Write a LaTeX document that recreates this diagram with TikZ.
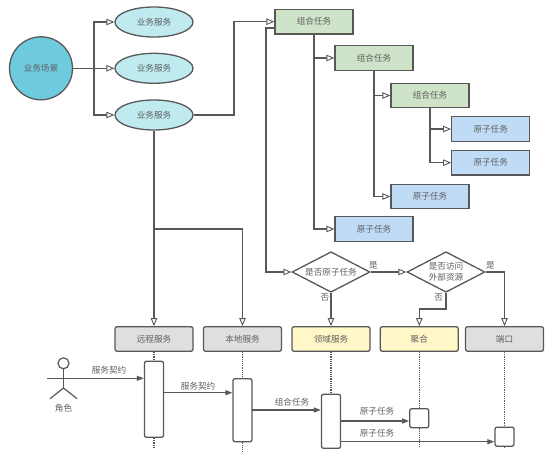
\documentclass[tikz,border=0pt]{standalone}
\usepackage{fontspec}
\setmainfont{Noto Sans CJK SC}
\usetikzlibrary{shapes.geometric, arrows.meta, positioning, calc}
\definecolor{linegray}{RGB}{88, 88, 88}
\definecolor{textgray}{RGB}{95, 95, 95}
\definecolor{scenecyan}{RGB}{110, 203, 222}
\definecolor{servicecyan}{RGB}{190, 234, 240}
\definecolor{combogreen}{RGB}{207, 227, 200}
\definecolor{atomblue}{RGB}{191, 219, 246}
\definecolor{headyellow}{RGB}{255, 247, 200}
\definecolor{headgray}{RGB}{223, 223, 223}
\tikzset{
  base/.style={draw=linegray, line width=1.3pt, text=textgray, inner sep=0pt,
              align=center, font=\fontsize{8.6}{11}\selectfont},
  scenenode/.style={base, circle, fill=scenecyan, minimum size=63pt},
  servicenode/.style={base, ellipse, fill=servicecyan, minimum width=78pt, minimum height=30pt},
  combobox/.style={base, rectangle, fill=combogreen, minimum width=78pt, minimum height=24.5pt},
  atombox/.style={base, rectangle, fill=atomblue, minimum width=78pt, minimum height=24.5pt},
  headbox/.style={base, rectangle, rounded corners=2pt, minimum width=78pt, minimum height=24.5pt, fill=#1},
  headbox/.default=headgray,
  decision/.style={base, diamond, aspect=1.92, fill=white, minimum width=78pt, minimum height=40.5pt},
  actbox/.style={base, rectangle, rounded corners=2pt, fill=white, minimum width=19pt, minimum height=#1},
  actbox/.default=19pt,
  tag/.style={text=textgray, inner sep=0pt, font=\fontsize{8.6}{11}\selectfont},
  arrow/.style={-{Triangle[open, fill=white, length=8pt, width=6.5pt, line width=0.9pt]}, line width=1.2pt, color=linegray},
  plainline/.style={line width=1.2pt, color=linegray},
  callarrow/.style={-{Triangle[length=7pt, width=5pt]}, line width=1.2pt, color=linegray},
  lifeline/.style={densely dotted, line width=1.2pt, color=linegray},
}
\begin{document}
\begin{tikzpicture}[x=1pt, y=-1pt]
  \useasboundingbox (0,0) rectangle (550,453);
  % Scene and services
  \node[scenenode] (scene) at (41,68.3) {业务场景};
  \node[servicenode] (svcA) at (154,22) {业务服务};
  \node[servicenode] (svcB) at (154,68.3) {业务服务};
  \node[servicenode] (svcC) at (154,115) {业务服务};
  % Task tree
  \node[combobox] (comboA) at (314,21.7) {组合任务};
  \node[combobox] (comboB) at (374,58) {组合任务};
  \node[combobox] (comboC) at (430,95.5) {组合任务};
  \node[atombox] (atomA) at (490.7,129) {原子任务};
  \node[atombox] (atomB) at (490.7,162.7) {原子任务};
  \node[atombox] (atomC) at (430,196.5) {原子任务};
  \node[atombox] (atomD) at (374,229) {原子任务};
  % Decisions
  \node[decision] (isAtom) at (331,272) {是否原子任务};
  \node[decision] (isExt) at (446,272) {是否访问\\外部资源};
  % Lane heads
  \node[headbox] (remote) at (154,339) {远程服务};
  \node[headbox] (local) at (242.5,339) {本地服务};
  \node[headbox=headyellow] (domain) at (331,339) {领域服务};
  \node[headbox=headyellow] (aggr) at (419.3,339) {聚合};
  \node[headbox] (port) at (504.5,339) {端口};
  % Activations
  \node[actbox=76pt] (actA) at (154,399.3) {};
  \node[actbox=63pt] (actB) at (242.5,410.2) {};
  \node[actbox=54pt] (actC) at (331,421.3) {};
  \node[actbox] (actD) at (419.3,418.2) {};
  \node[actbox] (actE) at (504.5,436.7) {};
  % Actor
  \node[draw=linegray, line width=1.2pt, circle, fill=white, minimum size=11pt, inner sep=0pt] (head) at (63.5,363.3) {};
  \coordinate (hip) at (63.5,388);
  \coordinate (armL) at (47,378.3);
  \coordinate (armR) at (80,378.3);
  \coordinate (legL) at (50,398.7);
  \coordinate (legR) at (77,398.7);
  \draw[plainline] (head.south) -- (hip);
  \draw[plainline] (armL) -- (armR);
  \draw[plainline] (legL) -- (hip) -- (legR);
  \node[tag] (actor) at (63.5,408) {角色};
  % Service links
  \coordinate (busA) at (94,68.3);
  \coordinate (busB) at (234,115);
  \coordinate (busC) at (266,28);
  \coordinate (comboExit) at (275,28);
  \coordinate (split) at (154,229);
  \coordinate (bendA) at (446,309);
  \coordinate (bendB) at (419.3,309);
  \draw[plainline] (scene.east) -- (busA);
  \draw[arrow] (busA) |- (svcA.west);
  \draw[arrow] (scene.east) -- (svcB.west);
  \draw[arrow] (busA) |- (svcC.west);
  \draw[arrow] (svcC.east) -- (busB) |- (comboA.west);
  \draw[arrow] (comboExit) -- (busC) |- (isAtom.west);
  \draw[arrow] (svcC.south) -- (remote.north);
  \draw[arrow] (split) -| (local.north);
  % Tree links
  \draw[arrow] (comboA.south) |- (comboB.west);
  \draw[arrow] (comboA.south) |- (atomD.west);
  \draw[arrow] (comboB.south) |- (comboC.west);
  \draw[arrow] (comboB.south) |- (atomC.west);
  \draw[arrow] (comboC.south) |- (atomA.west);
  \draw[arrow] (comboC.south) |- (atomB.west);
  % Decision links
  \draw[arrow] (isAtom.east) -- (isExt.west);
  \draw[arrow] (isAtom.south) -- (domain.north);
  \draw[arrow] (isExt.east) -| (port.north);
  \draw[arrow] (isExt.south) -- (bendA) -- (bendB) -- (aggr.north);
  \node[tag] (yesA) at (373.5,265) {是};
  \node[tag] (noA) at (325,297) {否};
  \node[tag] (yesB) at (490.5,265) {是};
  \node[tag] (noB) at (438.7,297) {否};
  % Lifelines
  \coordinate (endA) at (154,447);
  \coordinate (endB) at (242.5,452);
  \coordinate (endD) at (419.3,448);
  \coordinate (endE) at (504.5,448);
  \draw[lifeline] (remote.south) -- (actA.north);
  \draw[lifeline] (actA.south) -- (endA);
  \draw[lifeline] (local.south) -- (actB.north);
  \draw[lifeline] (actB.south) -- (endB);
  \draw[lifeline] (domain.south) -- (actC.north);
  \draw[lifeline] (aggr.south) -- (actD.north);
  \draw[lifeline] (actD.south) -- (endD);
  \draw[lifeline] (port.south) -- (actE.north);
  \draw[lifeline] (actE.south) -- (endE);
  % Calls
  \coordinate (callB) at (163.5,392.7);
  \coordinate (callC) at (252,410);
  \coordinate (callD) at (340.5,421);
  \coordinate (callE) at (340.5,441.7);
  \draw[callarrow] (armR) -- (actA.west |- armR);
  \draw[callarrow] (callB) -- (actB.west |- callB);
  \draw[callarrow] (callC) -- (actC.west |- callC);
  \draw[callarrow] (callD) -- (actD.west |- callD);
  \draw[callarrow] (callE) -- (actE.west |- callE);
  \node[tag] (callLabelA) at (109,370) {服务契约};
  \node[tag] (callLabelB) at (198,386.5) {服务契约};
  \node[tag] (callLabelC) at (292,402.5) {组合任务};
  \node[tag] (callLabelD) at (377,411.5) {原子任务};
  \node[tag] (callLabelE) at (377,433) {原子任务};
\end{tikzpicture}
\end{document}
